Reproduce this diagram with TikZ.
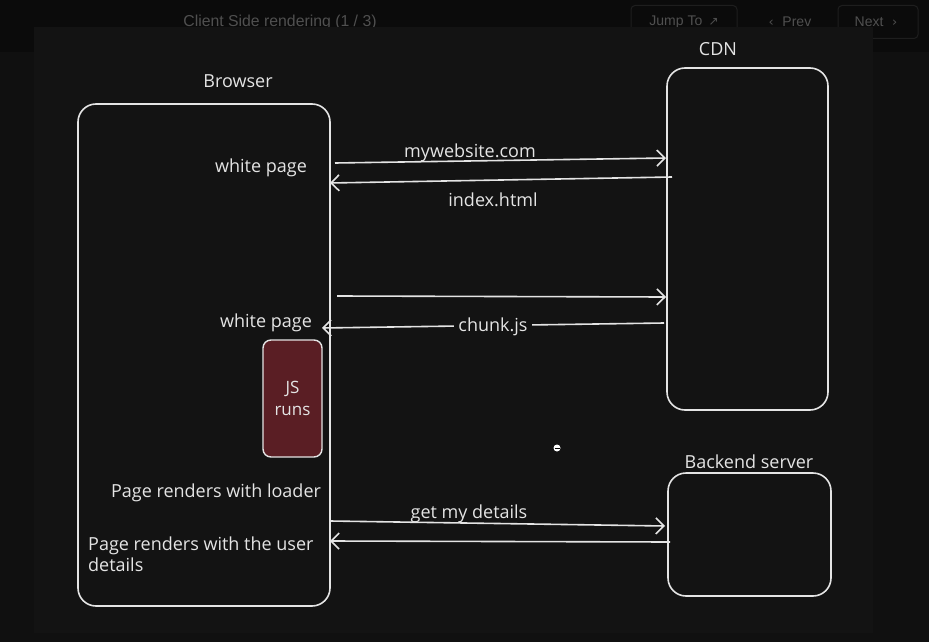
\documentclass[tikz,border=0pt]{standalone}
\usepackage{fontspec}
\setmainfont{Open Sans}
\newfontfamily\uifont{Liberation Sans}
\newfontfamily\symfont{DejaVu Sans}
\usetikzlibrary{arrows.meta,calc}
\definecolor{outerbg}{HTML}{0B0B0B}
\definecolor{lowerbg}{HTML}{101010}
\definecolor{panelbg}{HTML}{131313}
\definecolor{ink}{HTML}{E4E4E4}
\definecolor{uitext}{HTML}{505050}
\definecolor{uiborder}{HTML}{1E1E1E}
\definecolor{jsfill}{HTML}{5A1E24}
\tikzset{
  box/.style={draw=ink, line width=1.6pt, rounded corners=18pt, inner sep=0pt},
  jsbox/.style={draw=ink, line width=1.4pt, fill=jsfill, rounded corners=8pt, inner sep=0pt},
  lbl/.style={text=ink, font=\fontsize{18}{21}\selectfont, inner sep=1pt, yshift=-3pt},
  flow/.style={draw=ink, line width=1.6pt, -{Straight Barb[length=8pt,width=16pt,line width=1.6pt]}},
  uibtn/.style={draw=uiborder, line width=1pt, rounded corners=4pt, inner sep=0pt},
  uitxt/.style={text=uitext, font=\uifont\fontsize{14}{16}\selectfont, inner sep=0pt}
}
\begin{document}
\begin{tikzpicture}[x=1pt,y=-1pt]
\useasboundingbox (0,0) rectangle (929,642);
\fill[outerbg] (0,0) rectangle (929,642);
\fill[lowerbg] (0,52) rectangle (929,642);
% top bar
\node[uitxt, font=\uifont\fontsize{15.8}{18}\selectfont] (title) at (280,22) {Client Side rendering (1 / 3)};
\node[uibtn, minimum width=106pt, minimum height=33pt] (jumpbtn) at (684,22) {};
\node[uitxt] (jump) at (684,22) {Jump To \,{\symfont\fontsize{12}{14}\selectfont ↗}};
\node[uitxt] (prev) at (790,22) {{\symfont\fontsize{13}{14}\selectfont ‹}\,\, Prev};
\node[uibtn, minimum width=80pt, minimum height=33pt] (nextbtn) at (878,22) {};
\node[uitxt] (next) at (876,22) {Next \,\,{\symfont\fontsize{13}{14}\selectfont ›}};
% panel
\fill[panelbg] (34,27) rectangle (873,633);
% boxes
\node[box, minimum width=252pt, minimum height=502pt] (browser) at (204,355) {};
\node[box, minimum width=161pt, minimum height=342pt] (cdn) at (747.5,239) {};
\node[box, minimum width=163pt, minimum height=123pt] (backend) at (749.5,534.5) {};
\node[jsbox, minimum width=59pt, minimum height=117pt, align=center, text=ink,
      font=\fontsize{17}{22}\selectfont] (js) at (292.5,398.5) {JS\\runs};
% titles
\node[lbl] (browserlbl) at (238,78) {Browser};
\node[lbl] (cdnlbl) at (718,46) {CDN};
\node[lbl] (belbl) at (749,459) {Backend server};
% texts inside browser
\node[lbl] (wp1) at (261,165) {white page};
\node[lbl] (wp2) at (266,320) {white page};
\node[lbl] (prl) at (216,490) {Page renders with loader};
\node[lbl, anchor=west, align=left] (pru) at (87,551) {Page renders with the user\\details};
% connector endpoints
\coordinate (a1s) at (335,163); \coordinate (a1e) at (666,158);
\coordinate (a2s) at (672,177); \coordinate (a2e) at (330,183);
\coordinate (a3s) at (337,296); \coordinate (a3e) at (666,297);
\coordinate (a4s) at (664,323); \coordinate (a4e) at (322,328);
\coordinate (a5s) at (330,521); \coordinate (a5e) at (665,526);
\coordinate (a6s) at (670,542); \coordinate (a6e) at (330,541);
\draw[flow] (a1s) -- (a1e);
\draw[flow] (a2s) -- (a2e);
\draw[flow] (a3s) -- (a3e);
\draw[flow] (a4s) -- (a4e);
\draw[flow] (a5s) -- (a5e);
\draw[flow] (a6s) -- (a6e);
% connector labels
\node[lbl] (l1) at (470,150) {mywebsite.com};
\node[lbl] (l2) at (493,197) {index.html};
\node[lbl, fill=panelbg, inner xsep=4pt, inner ysep=0pt] (l4) at (493,324) {chunk.js};
\node[lbl] (l5) at (469,511) {get my details};
% cursor
\fill[white] (557,448) circle (3.5pt);
\draw[black, line width=1pt] (554.5,448) -- (559.5,448);
\end{tikzpicture}
\end{document}
